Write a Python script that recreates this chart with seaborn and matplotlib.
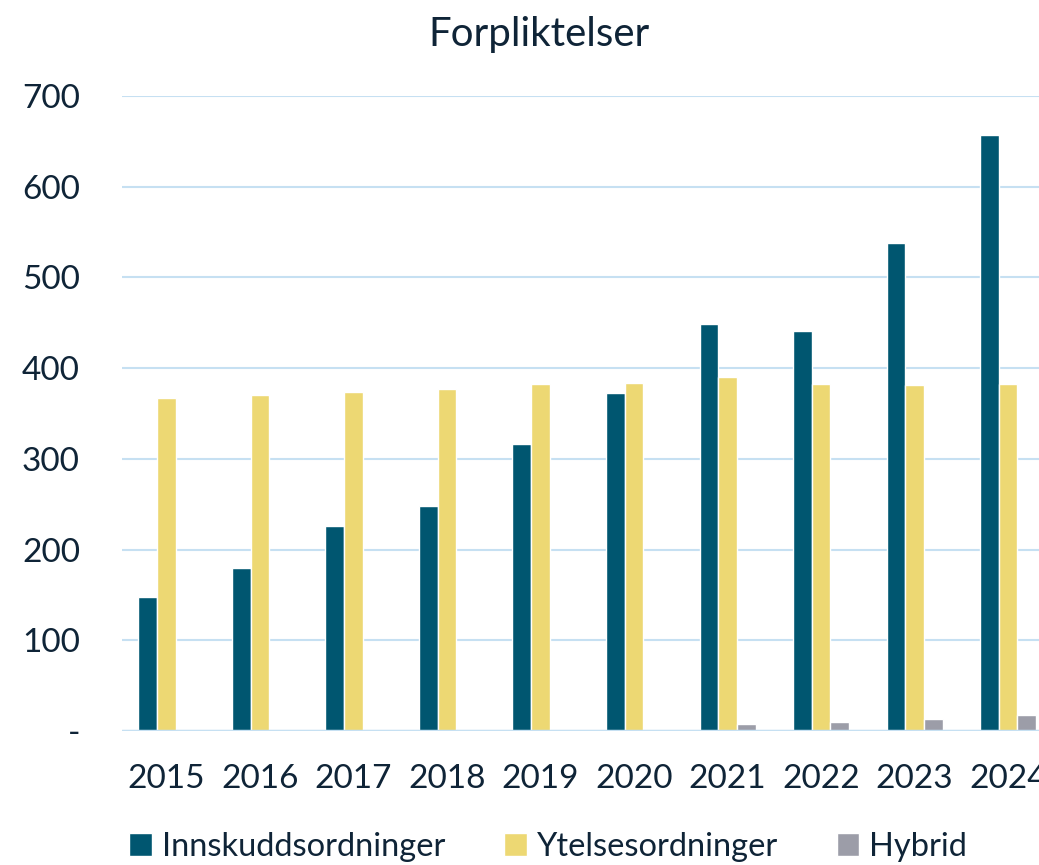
import pandas as pd
import matplotlib.pyplot as plt
import seaborn as sns

years = ['2015', '2016', '2017', '2018', '2019', '2020', '2021', '2022', '2023', '2024']
innskudd = [148, 180, 226, 248, 316, 373, 449, 441, 538, 657]
ytelse = [367, 370, 374, 377, 383, 384, 390, 383, 381, 383]
hybrid = [0, 0, 0, 0, 0, 0, 8, 10, 13, 18]
series = ['Innskuddsordninger', 'Ytelsesordninger', 'Hybrid']
colors = ['#005670', '#EDD873', '#9C9DA8']

df = pd.DataFrame({'år': years, series[0]: innskudd, series[1]: ytelse, series[2]: hybrid})
long = df.melt(id_vars='år', var_name='type', value_name='verdi')

sns.set_style('white')
plt.rcParams['font.family'] = ['Lato', 'DejaVu Sans']
text_col = '#0F2437'
grid_col = '#C6E0F2'

fig = plt.figure(figsize=(10.39, 8.65), dpi=100)
ax = fig.add_axes([0.117, 0.155, 0.883, 0.734])

sns.barplot(data=long, x='år', y='verdi', hue='type', hue_order=series,
            palette=colors, width=0.6, edgecolor='white', linewidth=1,
            saturation=1, ax=ax, zorder=3)

ax.set_ylim(0, 700)
ax.set_xlim(-0.48, 9.33)
ax.set_yticks(range(0, 701, 100))
ax.set_yticklabels(['-'] + [str(v) for v in range(100, 701, 100)])
ax.yaxis.grid(True, color=grid_col, linewidth=1.5, zorder=0)
for s in ax.spines.values():
    s.set_visible(False)
ax.axhline(0, color=grid_col, linewidth=2.5, zorder=4)
ax.tick_params(axis='both', length=0, labelsize=24, colors=text_col)
ax.tick_params(axis='y', pad=30)
ax.tick_params(axis='x', pad=24)
ax.set_xlabel('')
ax.set_ylabel('')
ax.set_title('Forpliktelser', fontsize=29, color=text_col, pad=36, x=0.455)

ax.legend(loc='upper center', bbox_to_anchor=(0.465, -0.113), ncol=3, frameon=False,
          fontsize=23.5, labelcolor=text_col, handlelength=0.7, handleheight=0.7,
          handletextpad=0.3, columnspacing=1.8)

plt.savefig('out.png', dpi=100)
